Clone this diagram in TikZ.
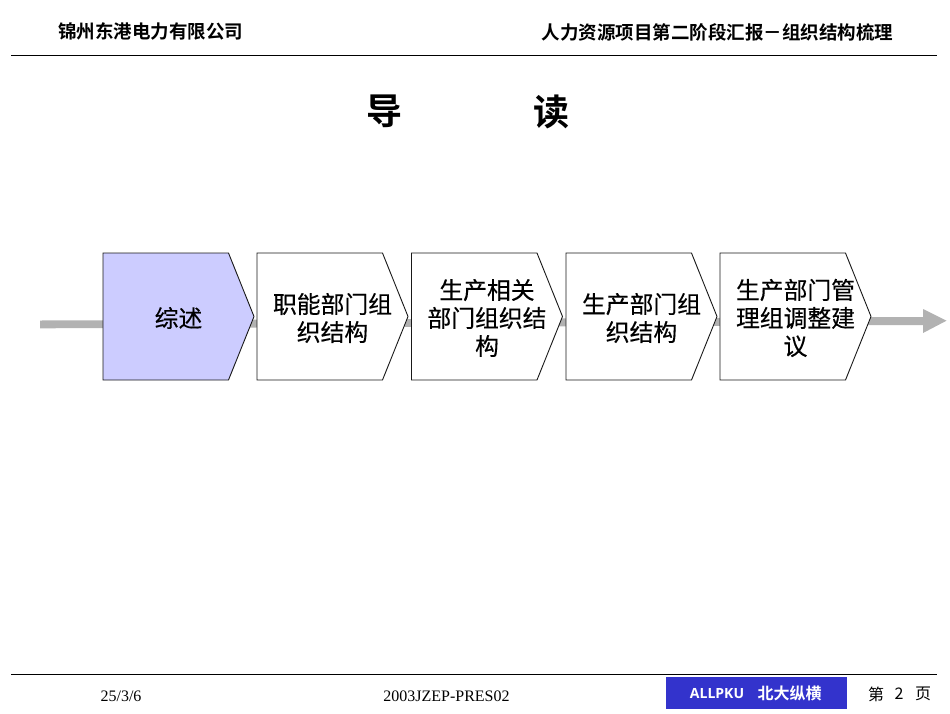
\documentclass[tikz,border=0pt]{standalone}
\usepackage{fontspec}
\setmainfont{Liberation Serif}
\newfontfamily\cjk{Noto Sans CJK SC}
\newfontfamily\cjkm[FakeBold=0.35]{Noto Sans CJK SC}
\newfontfamily\cjkb{Noto Sans CJK SC Bold}
\newfontfamily\lsans{Open Sans}
\tikzset{
  rule/.style={draw=black,line width=0.9pt},
  chevron/.style={draw=black!90,line width=0.9pt,fill=#1},
  chevtext/.style={font=\cjkm\fontsize{23.8}{28}\selectfont,align=center,text width=120pt,inner sep=0pt},
  heading/.style={font=\cjkb\fontsize{18.5}{22}\selectfont,inner sep=0pt},
  titletext/.style={font=\cjkb\fontsize{36}{40}\selectfont,inner sep=0pt},
  foot/.style={font=\fontsize{16}{20}\selectfont,inner sep=0pt},
  pagetext/.style={font=\cjk\fontsize{16}{20}\selectfont,inner sep=0pt},
}
\newcommand{\chevbox}[4]{% name, left x, fill, text
  \draw[chevron=#3] (#2,253) -- ++(125.5,0) -- ++(25.5,63.5) -- ++(-25.5,63.5) -- ++(-125.5,0) -- cycle;
  \node[chevtext] (#1) at (#2+75.5,318) {#4};
}
\begin{document}
\begin{tikzpicture}[x=1pt,y=-1pt]
\useasboundingbox (0,0) rectangle (950,713);
% header and footer rules
\coordinate (hl) at (11,55.5); \coordinate (hr) at (937,55.5);
\coordinate (fl) at (11,674); \coordinate (fr) at (937,674);
\draw[rule] (hl) -- (hr);
\draw[rule] (fl) -- (fr);
\node[heading] (company) at (150.5,31.5) {锦州东港电力有限公司};
\node[heading] (project) at (717.5,32.5) {人力资源项目第二阶段汇报－组织结构梳理};
\node[titletext] (t1) at (384,111.5) {导};
\node[titletext] (t2) at (551,111.5) {读};
% timeline arrow
\fill[black!30] (40,320.5) -- (923,317) -- (923,309) -- (946.5,320.7) -- (923,333) -- (923,325) -- (40,328.3) -- cycle;
% chevrons
\chevbox{b1}{103}{blue!20}{综述}
\chevbox{b2}{257}{white}{职能部门组\\织结构}
\chevbox{b3}{411.5}{white}{生产相关\\部门组织结\\构}
\chevbox{b4}{566}{white}{生产部门组\\织结构}
\chevbox{b5}{720}{white}{生产部门管\\理组调整建\\议}
% footer
\node[foot] (date) at (121,696.5) {25/3/6};
\node[foot] (code) at (446.5,696.5) {2003JZEP-PRES02};
\fill[fill={rgb,255:red,51;green,51;blue,204}] (666,677) rectangle (847,708.5);
\node[inner sep=0pt,text=white,font=\lsans\bfseries\fontsize{14}{18}\selectfont] (logoa) at (717,694) {ALLPKU};
\node[inner sep=0pt,text=white,font=\cjkb\fontsize{16}{18}\selectfont] (logob) at (789.5,693.5) {北大纵横};
\node[pagetext] (p1) at (876,694) {第};
\node[pagetext] (p2) at (899,694) {2};
\node[pagetext] (p3) at (923,694) {页};
\end{tikzpicture}
\end{document}
